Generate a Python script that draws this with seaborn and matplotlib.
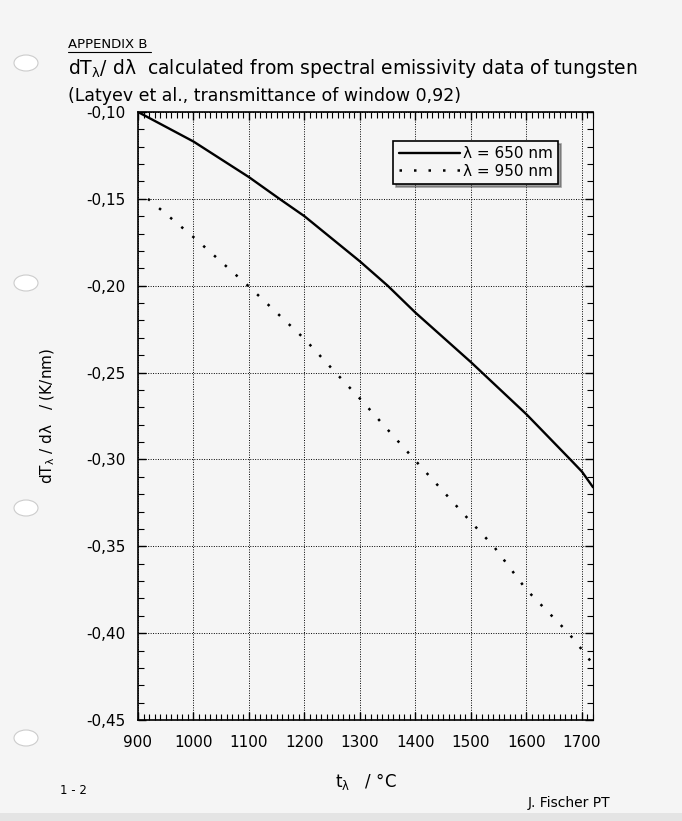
import matplotlib
matplotlib.use("Agg")
import matplotlib.pyplot as plt
import seaborn as sns
from matplotlib.patches import Ellipse, Rectangle
from matplotlib.lines import Line2D
from matplotlib.ticker import MultipleLocator

# values
t_650 = [900, 1000, 1100, 1155, 1200, 1300, 1350, 1400, 1500, 1520, 1600, 1679, 1700, 1720]
dT_650 = [-0.100, -0.117, -0.1375, -0.150, -0.160, -0.186, -0.200, -0.2155, -0.244, -0.250,
          -0.274, -0.300, -0.307, -0.316]

t_950 = [918, 1000, 1100, 1200, 1256, 1300, 1398, 1500, 1541, 1600, 1676, 1700, 1720]
dT_950 = [-0.150, -0.172, -0.2005, -0.2306, -0.250, -0.265, -0.300, -0.336, -0.350,
          -0.375, -0.400, -0.4095, -0.418]

x_ticks = [900, 1000, 1100, 1200, 1300, 1400, 1500, 1600, 1700]
y_ticks = [-0.10, -0.15, -0.20, -0.25, -0.30, -0.35, -0.40, -0.45]
y_tick_labels = ["-0,10", "-0,15", "-0,20", "-0,25", "-0,30", "-0,35", "-0,40", "-0,45"]

sns.set_style("ticks")
plt.rcParams['font.family'] = ['DejaVu Sans']
plt.rcParams['text.color'] = 'black'
plt.rcParams['axes.labelcolor'] = 'black'

PAPER = '#f5f5f5'
W, H = 682, 821

fig = plt.figure(figsize=(6.82, 8.21), dpi=100, facecolor=PAPER)
ax = fig.add_axes([138 / W, 1 - 720 / H, 455 / W, 608 / H])
ax.set_facecolor(PAPER)

sns.lineplot(x=t_650, y=dT_650, ax=ax, color='black', linewidth=1.7, label='λ = 650 nm')
sns.lineplot(x=t_950, y=dT_950, ax=ax, color='black', linewidth=1.8,
             linestyle=(0, (1, 4.8)), label='λ = 950 nm')

ax.set_xlim(900, 1720)
ax.set_ylim(-0.45, -0.10)
ax.set_xticks(x_ticks)
ax.set_yticks(y_ticks)
ax.set_yticklabels(y_tick_labels)
ax.xaxis.set_minor_locator(MultipleLocator(10))
ax.yaxis.set_minor_locator(MultipleLocator(0.01))
ax.tick_params(which='both', direction='in', top=True, right=True, colors='black')
ax.tick_params(which='major', length=6, width=1)
ax.tick_params(which='minor', length=4, width=0.8)
ax.tick_params(axis='x', which='major', pad=11, labelsize=11)
ax.tick_params(axis='y', which='major', pad=9, labelsize=11)

ax.grid(True, which='major', color='black', linestyle=(0, (1, 1.5)), linewidth=0.7)
for s in ax.spines.values():
    s.set_color('black')
    s.set_linewidth(1.2)
ax.spines['right'].set_linewidth(0.8)

ax.set_xlabel(r"t$_{\mathregular{λ}}$   / °C", fontsize=12, labelpad=15)
ax.set_ylabel(r"dT$_{\mathregular{λ}}$ / dλ   / (K/nm)", fontsize=11, labelpad=21)

leg = ax.legend(loc='upper right', bbox_to_anchor=(0.94, 0.965), frameon=True,
                fancybox=False, shadow=True, edgecolor='black', framealpha=1,
                facecolor=PAPER, handlelength=4.0, fontsize=11, borderpad=0.35,
                labelspacing=0.15, handletextpad=0.2)
leg.get_frame().set_linewidth(1.2)

# page texts
fig.text(68 / W, 1 - 44 / H, "APPENDIX B", fontsize=9.5, va='center', ha='left')
fig.add_artist(Line2D([68 / W, 151 / W], [1 - 52 / H, 1 - 52 / H], color='black', lw=0.8))
fig.text(68 / W, 1 - 68 / H, r"dT$_{\mathregular{λ}}$/ dλ  calculated from spectral emissivity data of tungsten",
         fontsize=13.5, va='center', ha='left')
fig.text(68 / W, 1 - 96 / H, "(Latyev et al., transmittance of window 0,92)",
         fontsize=12.5, va='center', ha='left')
fig.text(60 / W, 1 - 790 / H, "1 - 2", fontsize=8.5, va='center', ha='left')
fig.text(610 / W, 1 - 803 / H, "J. Fischer PT", fontsize=10, va='center', ha='right')

# punch holes and scanner strip
for yy in [63, 283, 508, 738]:
    fig.add_artist(Ellipse((26 / W, 1 - yy / H), 24 / W, 16 / H, facecolor='white',
                           edgecolor='#cccccc', lw=0.8))
fig.add_artist(Rectangle((0, 0), 1, 8 / H, facecolor='#e4e4e4', edgecolor='none'))

fig.savefig("out.png", dpi=100, facecolor=PAPER)
